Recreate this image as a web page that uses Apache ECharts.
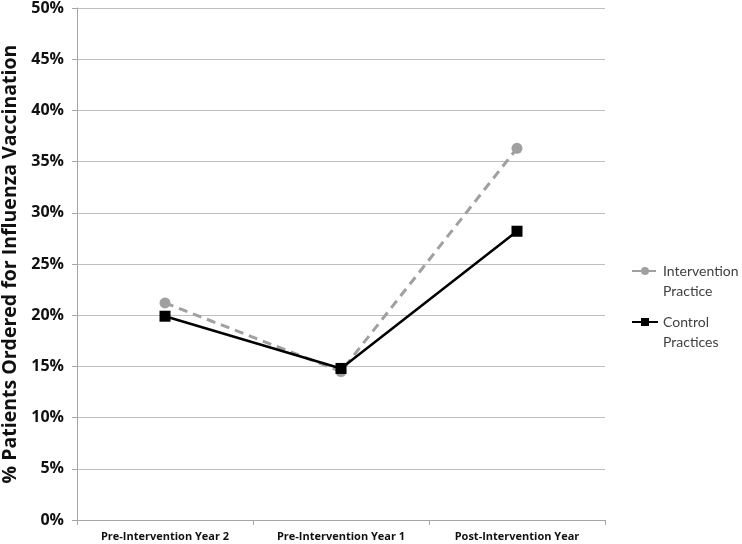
<!DOCTYPE html>
<html><head><meta charset="utf-8">
<script src="https://cdn.jsdelivr.net/npm/echarts@6/dist/echarts.min.js"></script>
<style>html,body{margin:0;padding:0;background:#fff}#c{width:742px;height:544px}</style>
</head><body><div id="c"></div>
<script>
var categories = ['Pre-Intervention Year 2', 'Pre-Intervention Year 1', 'Post-Intervention Year'];
var interventionValues = [21.2, 14.5, 36.3];
var controlValues = [19.9, 14.8, 28.2];
var seriesNames = ['Intervention\nPractice', 'Control\nPractices'];
var yTitle = '% Patients Ordered for Influenza Vaccination';
var FONT = '"Open Sans", "Liberation Sans", sans-serif';
var LEGEND_FONT = 'Lato, "Open Sans", sans-serif';

var chart = echarts.init(document.getElementById('c'));
chart.setOption({
  animation: false,
  backgroundColor: '#fff',
  grid: { left: 77, right: 137, top: 8, bottom: 24, containLabel: false, outerBoundsMode: 'none' },
  legend: {
    orient: 'vertical', left: 631, top: 241, padding: 0, itemWidth: 26, itemHeight: 10, itemGap: -9,
    textStyle: { fontFamily: LEGEND_FONT, fontSize: 14, color: '#404040', lineHeight: 20 },
    formatter: function (name) { return ' \n' + name; },
    data: seriesNames
  },
  xAxis: {
    type: 'category', data: categories, boundaryGap: true,
    axisLine: { lineStyle: { color: '#A6A6A6', width: 1 } },
    axisTick: { show: true, length: 5, lineStyle: { color: '#A6A6A6' } },
    axisLabel: { fontFamily: FONT, fontSize: 11, fontWeight: 'bold', color: '#111', margin: 11 }
  },
  yAxis: {
    type: 'value', min: 0, max: 50, interval: 5,
    name: yTitle, nameLocation: 'middle', nameGap: 54,
    nameTextStyle: { fontFamily: FONT, fontSize: 19.5, fontWeight: 'bold', color: '#111' },
    axisLine: { show: true, lineStyle: { color: '#A6A6A6', width: 1 } },
    axisTick: { show: true, length: 5, lineStyle: { color: '#A6A6A6' } },
    splitLine: { show: true, lineStyle: { color: '#BFBFBF', width: 1 } },
    axisLabel: { fontFamily: FONT, fontSize: 16, fontWeight: 'bold', color: '#111', margin: 13,
      formatter: function (v) { return v + '%'; } }
  },
  series: [
    {
      name: seriesNames[0], type: 'line', data: interventionValues,
      symbol: 'circle', symbolSize: 11,
      itemStyle: { color: '#A0A0A0' },
      lineStyle: { color: '#A0A0A0', width: 3, type: [9, 6] }
    },
    {
      name: seriesNames[1], type: 'line', data: controlValues,
      symbol: 'rect', symbolSize: 11,
      itemStyle: { color: '#000' },
      lineStyle: { color: '#000', width: 2.5 }
    }
  ]
});
</script></body></html>
